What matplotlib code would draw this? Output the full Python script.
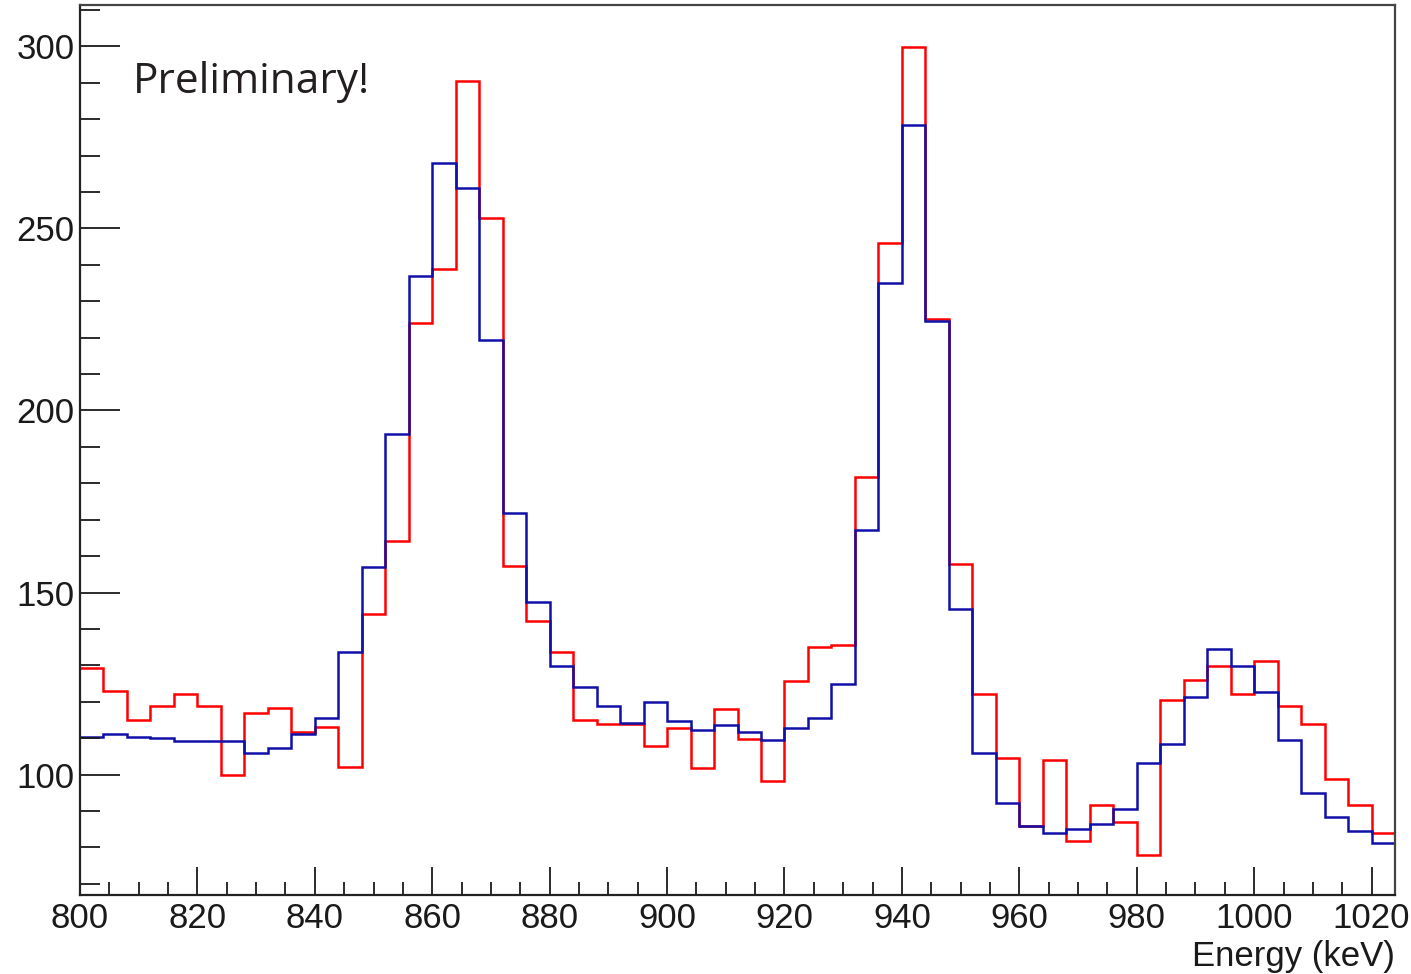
import numpy as np
import matplotlib
matplotlib.use("Agg")
import matplotlib.pyplot as plt
from matplotlib.ticker import MultipleLocator

# 4 keV bins from 800 to 1024 keV
bin_edges = np.arange(800, 1025, 4)

counts_red = [129.2, 122.9, 115.0, 118.8, 122.1, 118.8, 100.0, 116.8, 118.2, 111.7,
              113.1, 102.1, 144.2, 164.1, 223.9, 238.8, 290.6, 253.0, 157.2, 142.3,
              133.7, 114.9, 113.8, 113.8, 107.8, 112.8, 101.9, 118.1, 109.7, 98.2,
              125.8, 135.0, 135.6, 181.8, 246.0, 299.8, 225.2, 157.8, 122.0, 104.4,
              85.8, 103.9, 81.7, 91.5, 87.0, 78.0, 120.6, 125.9, 129.8, 122.0,
              131.1, 118.9, 113.8, 98.8, 91.5, 83.8]

counts_blue = [110.4, 111.0, 110.4, 109.9, 109.1, 109.1, 109.1, 105.8, 107.2, 111.0,
               115.6, 133.7, 157.1, 193.5, 236.9, 267.9, 261.1, 219.4, 171.8, 147.3,
               129.8, 124.0, 118.8, 114.2, 120.0, 114.8, 112.2, 113.7, 111.6, 109.6,
               112.8, 115.4, 124.8, 167.3, 235.0, 278.4, 224.6, 145.5, 105.8, 92.2,
               85.8, 83.8, 85.0, 86.3, 90.4, 103.3, 108.3, 121.4, 134.4, 129.8,
               122.7, 109.6, 94.8, 88.3, 84.4, 81.2]

plt.rcParams["font.family"] = ["Liberation Sans", "DejaVu Sans"]

fig = plt.figure(figsize=(14.11, 9.74), dpi=100)
ax = fig.add_axes([0.0567, 0.0811, 0.932, 0.9138])

ax.stairs(counts_red, bin_edges, baseline=None, color="#ff0000", linewidth=1.8)
ax.stairs(counts_blue, bin_edges, baseline=None, color="#1010a8", linewidth=1.8)

ax.set_xlim(800, 1024)
ax.set_ylim(66.9, 311.4)

ax.xaxis.set_major_locator(MultipleLocator(20))
ax.xaxis.set_minor_locator(MultipleLocator(5))
ax.yaxis.set_major_locator(MultipleLocator(50))
ax.yaxis.set_minor_locator(MultipleLocator(10))

ax.tick_params(axis="x", which="major", direction="in", length=20, width=1.3,
               labelsize=25, pad=5, top=False, colors="#1a1a1a")
ax.tick_params(axis="x", which="minor", direction="in", length=9.5, width=1.3, top=False,
               colors="#1a1a1a")
ax.tick_params(axis="y", which="major", direction="in", length=28.5, width=1.3,
               labelsize=25, pad=4, right=False, colors="#1a1a1a")
ax.tick_params(axis="y", which="minor", direction="in", length=14.5, width=1.3, right=False,
               colors="#1a1a1a")

for side in ["left", "bottom"]:
    ax.spines[side].set_linewidth(1.6)
    ax.spines[side].set_color("#222222")
for side in ["top", "right"]:
    ax.spines[side].set_linewidth(1.6)
    ax.spines[side].set_color("#444444")

ax.text(1.0, -0.05, "Energy (keV)", transform=ax.transAxes, ha="right", va="top",
        fontsize=25, color="#1a1a1a")

ax.text(0.0405, 0.901, "Preliminary!", transform=ax.transAxes, ha="left", va="baseline",
        fontsize=30.5, family=["Open Sans", "DejaVu Sans"], color="#231f20")

fig.savefig("out.png", dpi=100)
